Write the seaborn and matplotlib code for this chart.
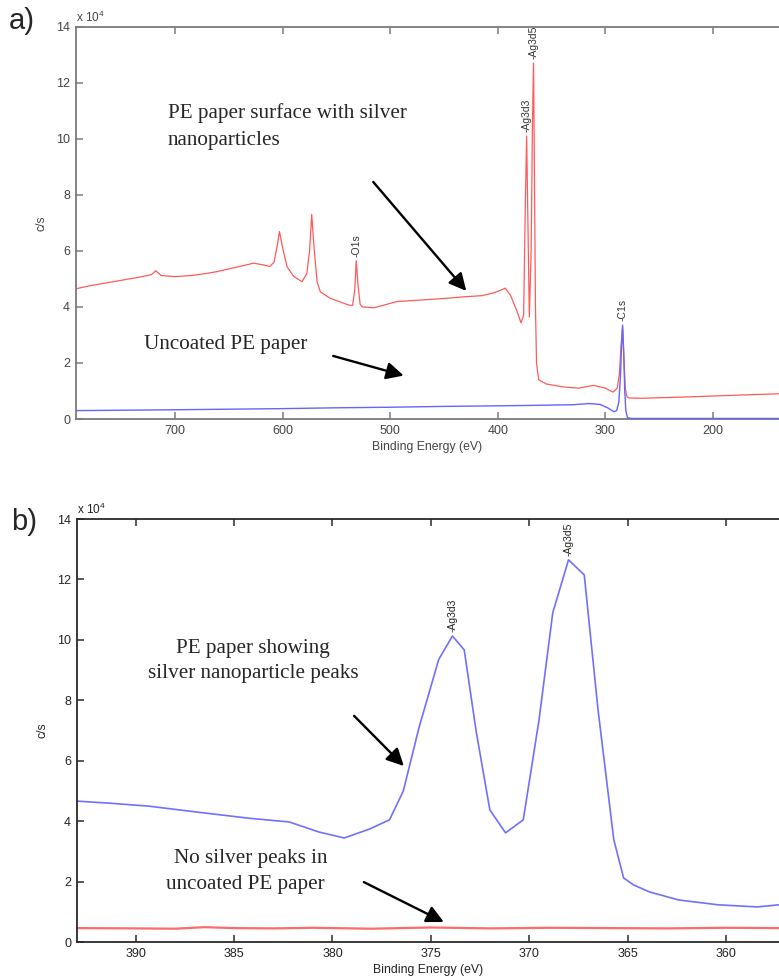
import numpy as np
import pandas as pd
import matplotlib
matplotlib.use("Agg")
import matplotlib.pyplot as plt
import seaborn as sns

# panel a: survey spectra (counts in units of 1e4 c/s)
survey_ev = [792, 780, 765, 750, 735, 722, 718, 713, 700, 685, 670, 661, 645, 627, 618, 612, 608, 605,
             603, 600, 596, 590, 582, 577.5, 575, 573, 571, 568, 565, 556, 548, 539, 535, 533, 531.6, 530,
             528, 526, 515, 494, 470, 450, 432, 415, 404, 397, 393, 388, 382, 378.4, 376, 374.5, 373.2,
             372, 370.7, 369, 367.8, 366.8, 366, 365, 364, 362, 355, 340, 325, 311, 300, 293, 289, 287,
             285.5, 284, 282.8, 281.5, 280, 278, 265, 250, 230, 200, 170, 139]
silver_survey = [4.65, 4.75, 4.85, 4.95, 5.05, 5.15, 5.29, 5.12, 5.08, 5.12, 5.2, 5.26, 5.4, 5.56, 5.5,
                 5.44, 5.6, 6.2, 6.69, 6.1, 5.44, 5.1, 4.9, 5.2, 6.0, 7.3, 6.2, 4.9, 4.54, 4.31, 4.2, 4.07,
                 4.05, 4.6, 5.65, 4.8, 4.1, 4.0, 3.97, 4.19, 4.25, 4.3, 4.36, 4.4, 4.5, 4.6, 4.67, 4.4,
                 3.83, 3.43, 3.7, 7.5, 10.1, 7.0, 3.64, 6.0, 10.5, 12.7, 9.0, 4.0, 2.0, 1.4, 1.25, 1.15,
                 1.1, 1.2, 1.1, 0.96, 1.1, 1.6, 2.6, 3.28, 2.2, 1.1, 0.8, 0.75, 0.74, 0.76, 0.78, 0.82, 0.86,
                 0.9]
plain_survey_ev = [792, 760, 700, 650, 600, 550, 500, 450, 400, 360, 330, 315, 305, 298, 292, 289.5, 287.5,
                   286, 285, 284, 283, 282, 281, 279.5, 276, 250, 200, 139]
plain_survey = [0.3, 0.31, 0.33, 0.35, 0.37, 0.4, 0.42, 0.45, 0.47, 0.49, 0.51, 0.55, 0.52, 0.4, 0.26,
                0.3, 0.6, 1.5, 2.6, 3.35, 2.4, 1.0, 0.3, 0.05, 0.02, 0.02, 0.02, 0.02]
survey_peaks = ["-Ag3d5", "-Ag3d3", "-O1s", "-C1s"]
survey_peak_ev = [366.8, 373.2, 531.6, 284]
survey_peak_val = [12.7, 10.1, 5.65, 3.35]

# panel b: Ag 3d region
region_ev = [393, 391.3, 389.3, 386.8, 384.2, 382.2, 380.7, 379.4, 378.1, 377.1, 376.4, 375.6, 374.6,
             373.9, 373.3, 372.7, 372.0, 371.2, 370.3, 369.5, 368.8, 368.0, 367.2, 366.5, 365.7, 365.2,
             364.7, 363.9, 362.4, 360.4, 358.4, 357.3]
silver_region = [4.67, 4.6, 4.5, 4.3, 4.1, 3.98, 3.65, 3.45, 3.75, 4.05, 5.0, 7.1, 9.35, 10.13, 9.67,
                 7.0, 4.38, 3.62, 4.05, 7.35, 10.9, 12.65, 12.15, 7.7, 3.4, 2.13, 1.9, 1.67, 1.4, 1.24,
                 1.17, 1.24]
plain_region_ev = [393, 390, 388, 386.5, 385, 383, 381, 378, 375, 372, 369, 366, 363, 360, 357.3]
plain_region = [0.47, 0.46, 0.45, 0.5, 0.47, 0.46, 0.48, 0.45, 0.49, 0.46, 0.48, 0.47, 0.46, 0.48, 0.47]
region_peaks = ["-Ag3d3", "-Ag3d5"]
region_peak_ev = [373.9, 368.0]
region_peak_val = [10.13, 12.65]

sns.set_style("ticks")
plt.rcParams['font.family'] = ['Liberation Sans', 'DejaVu Sans']
plt.rcParams['mathtext.default'] = 'regular'

W, H = 779, 980
fig = plt.figure(figsize=(W / 100, H / 100), dpi=100)


def px_axes(left, top, bottom):
    return fig.add_axes([left / W, 1 - bottom / H, 1 - left / W, (bottom - top) / H])


def style_axes(ax, xlim, xticks, spine_col, lab_col):
    ax.set_xlim(*xlim)
    ax.set_ylim(0, 14)
    ax.set_xticks(xticks)
    ax.set_yticks(range(0, 15, 2))
    for s in ['left', 'bottom', 'top']:
        ax.spines[s].set_color(spine_col)
        ax.spines[s].set_linewidth(1.3)
    ax.spines['right'].set_visible(False)
    ax.tick_params(direction='in', length=5, width=1.1, color=spine_col, labelsize=9,
                   labelcolor=lab_col, top=True, pad=4)
    ax.set_xlabel('Binding Energy (eV)', fontsize=8.8, color=lab_col, labelpad=3)
    ax.set_ylabel('c/s', fontsize=8.8, color=lab_col, labelpad=6)
    ax.text(0, 1.004, 'x 10$^4$', transform=ax.transAxes, fontsize=8.5, color=lab_col,
            ha='left', va='bottom')


def peak_labels(ax, names, evs, vals, col):
    for n, e, v in zip(names, evs, vals):
        ax.annotate(n, (e, v), xytext=(0, 3), textcoords='offset points', rotation=90,
                    ha='center', va='bottom', fontsize=7.5, color=col)


arrow = dict(arrowstyle='-|>', mutation_scale=26, lw=1.7, color='black', shrinkA=0, shrinkB=0)
serif = ['Liberation Serif', 'DejaVu Serif']
fs = 15.2

# ---- panel a
ax_a = px_axes(75.7, 26.7, 419)
sns.lineplot(x=survey_ev, y=silver_survey, ax=ax_a, color='#ff5a5a', lw=0.9, sort=False)
sns.lineplot(x=plain_survey_ev, y=plain_survey, ax=ax_a, color='#6464ff', lw=1.0, sort=False, zorder=3)
style_axes(ax_a, (792.4, 138.6), range(200, 701, 100), '#7a7a7a', '#444444')
peak_labels(ax_a, survey_peaks, survey_peak_ev, survey_peak_val, '#333333')
ax_a.annotate('', xy=(429.3, 4.57), xytext=(515.8, 8.46), arrowprops=arrow)
ax_a.annotate('', xy=(487.5, 1.55), xytext=(553, 2.25), arrowprops=arrow)
fig.text(168 / W, 1 - 113 / H, 'PE paper surface with silver', family=serif, fontsize=fs, va='center')
fig.text(168 / W, 1 - 140 / H, 'nanoparticles', family=serif, fontsize=fs, va='center')
fig.text(144 / W, 1 - 345 / H, 'Uncoated PE paper', family=serif, fontsize=fs, va='center')
fig.text(9 / W, 1 - 21 / H, 'a)', fontsize=21, va='center')

# ---- panel b
ax_b = px_axes(76.7, 519, 942.3)
sns.lineplot(x=region_ev, y=silver_region, ax=ax_b, color='#7070ff', lw=1.2, sort=False)
sns.lineplot(x=plain_region_ev, y=plain_region, ax=ax_b, color='#ff6a6a', lw=1.6, sort=False)
style_axes(ax_b, (393.0, 357.3), range(360, 391, 5), '#2a2a2a', '#222222')
peak_labels(ax_b, region_peaks, region_peak_ev, region_peak_val, '#222222')
ax_b.annotate('', xy=(376.37, 5.83), xytext=(378.9, 7.49), arrowprops=arrow)
ax_b.annotate('', xy=(374.34, 0.67), xytext=(378.4, 1.99), arrowprops=arrow)
fig.text(253 / W, 1 - 648 / H, 'PE paper showing', family=serif, fontsize=fs, va='center', ha='center')
fig.text(253 / W, 1 - 673 / H, 'silver nanoparticle peaks', family=serif, fontsize=fs, va='center',
         ha='center')
fig.text(251 / W, 1 - 858 / H, 'No silver peaks in', family=serif, fontsize=fs, va='center', ha='center')
fig.text(245 / W, 1 - 884 / H, 'uncoated PE paper', family=serif, fontsize=fs, va='center', ha='center')
fig.text(11 / W, 1 - 522 / H, 'b)', fontsize=21, va='center')

fig.savefig('out.png', dpi=100)
